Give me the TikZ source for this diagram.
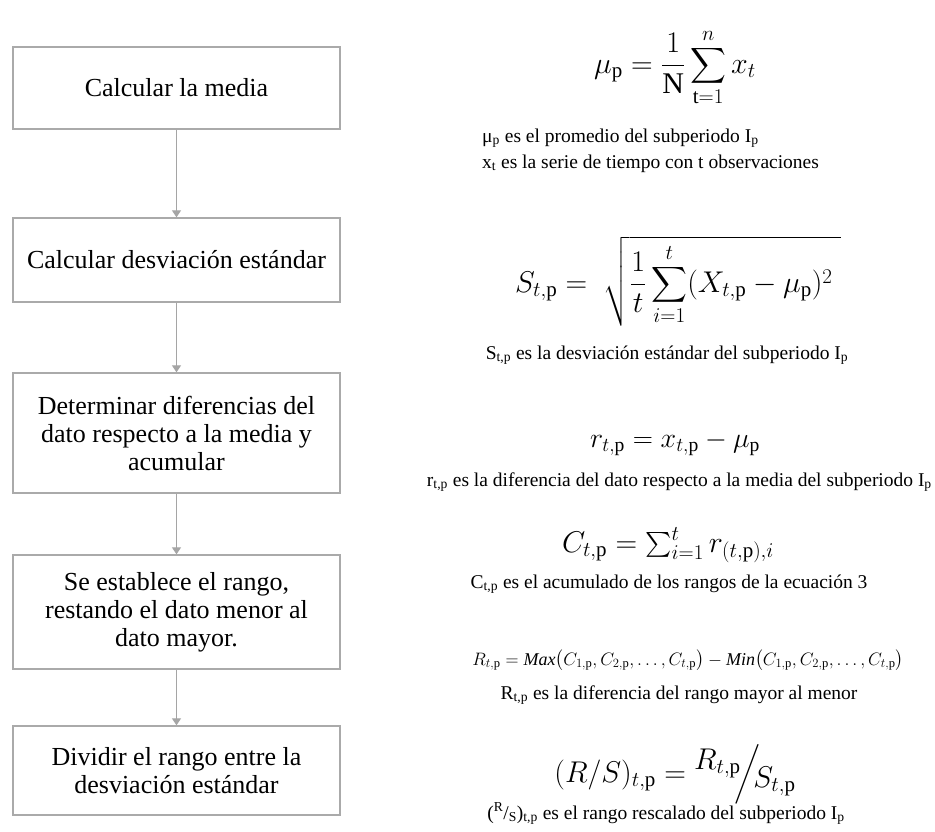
\RequirePackage{fix-cm}
\documentclass[tikz,border=0pt]{standalone}
\usepackage{amsmath}
\usepackage{fontspec}
\setmainfont{Liberation Serif}
\usetikzlibrary{arrows.meta}
\definecolor{boxgray}{RGB}{170,170,170}
\definecolor{arrowgray}{RGB}{165,165,165}
\newcommand{\mysub}[1]{\textsubscript{#1}}
\newcommand{\mysup}[1]{\textsuperscript{#1}}
\tikzset{
  stepbox/.style={draw=boxgray, line width=1.4pt, minimum width=327pt, align=center,
    font=\fontsize{26}{28}\selectfont, inner sep=0pt},
  flow/.style={draw=arrowgray, line width=1.3pt, -{Triangle[width=9pt,length=7pt]}},
  eq/.style={anchor=base, inner sep=0pt, font=\fontsize{30}{36}\selectfont},
  eqsmall/.style={anchor=base, inner sep=0pt, font=\fontsize{18}{22}\selectfont},
  capt/.style={anchor=base, inner sep=0pt, font=\fontsize{19.5}{24}\selectfont},
}
\begin{document}
\begin{tikzpicture}[x=1pt,y=-1pt]
\fill[white] (0,0) rectangle (935,831);
\useasboundingbox (0,0) rectangle (935,831);

% flow boxes
\node[stepbox, minimum height=82pt] (b1) at (176.5,88) {Calcular la media};
\node[stepbox, minimum height=84pt] (b2) at (176.5,260) {Calcular desviación estándar};
\node[stepbox, minimum height=120pt] (b3) at (176.5,433) {Determinar diferencias del\\dato respecto a la media y\\acumular};
\node[stepbox, minimum height=114pt] (b4) at (176.5,612) {Se establece el rango,\\restando el dato menor al\\dato mayor.};
\node[stepbox, minimum height=89pt] (b5) at (176.5,770.5) {Dividir el rango entre la\\desviación estándar};

\draw[flow] (b1.south) -- (b2.north);
\draw[flow] (b2.south) -- (b3.north);
\draw[flow] (b3.south) -- (b4.north);
\draw[flow] (b4.south) -- (b5.north);

% formulas
\node[eq] (f1) at (675,73) {$\displaystyle \mu_{\mathrm{p}} = \frac{1}{\mathrm{N}}\sum_{\mathrm{t}=1}^{n} x_t$};
\node[capt, anchor=base west] (c1a) at (482,142) {μ\mysub{p} es el promedio del subperiodo I\mysub{p}};
\node[capt, anchor=base west] (c1b) at (482,168) {x\mysub{t} es la serie de tiempo con t observaciones};

\node[eq] (f2) at (678,292) {$\displaystyle S_{t,\mathrm{p}} = \;\sqrt{\frac{1}{t}\sum_{i=1}^{t}(X_{t,\mathrm{p}}-\mu_{\mathrm{p}})^2\;}$};
\node[capt] (c2) at (667,359) {S\mysub{t,p} es la desviación estándar del subperiodo I\mysub{p}};

\node[eq, font=\fontsize{28}{34}\selectfont] (f3) at (675,447) {$r_{t,\mathrm{p}} = x_{t,\mathrm{p}} - \mu_{\mathrm{p}}$};
\node[capt, anchor=base east] (c3) at (932,486) {r\mysub{t,p} es la diferencia del dato respecto a la media del subperiodo I\mysub{p}};

\node[eq] (f4) at (668,552) {$C_{t,\mathrm{p}} = \textstyle\sum_{i=1}^{t} r_{(t,\mathrm{p}),i}$};
\node[capt] (c4) at (669,588) {C\mysub{t,p} es el acumulado de los rangos de la ecuación 3};

\node[eqsmall] (f5) at (688,665) {$R_{t,\mathrm{p}} = \mathit{Max}\bigl(C_{1,\mathrm{p}}, C_{2,\mathrm{p}}, \dots, C_{t,\mathrm{p}}\bigr) - \mathit{Min}\bigl(C_{1,\mathrm{p}}, C_{2,\mathrm{p}}, \dots, C_{t,\mathrm{p}}\bigr)$};
\node[capt] (c5) at (679,699) {R\mysub{t,p} es la diferencia del rango mayor al menor};

\node[eq] (f6) at (675,782) {$(R/S)_{t,\mathrm{p}} = \raisebox{0.42em}{$R_{t,\mathrm{p}}$}\mkern-4mu\Big/\mkern-4mu\raisebox{-0.18em}{$S_{t,\mathrm{p}}$}$};
\node[capt] (c6) at (666,819) {(\mysup{R}/\mysub{S})\mysub{t,p} es el rango rescalado del subperiodo I\mysub{p}};
\end{tikzpicture}
\end{document}
